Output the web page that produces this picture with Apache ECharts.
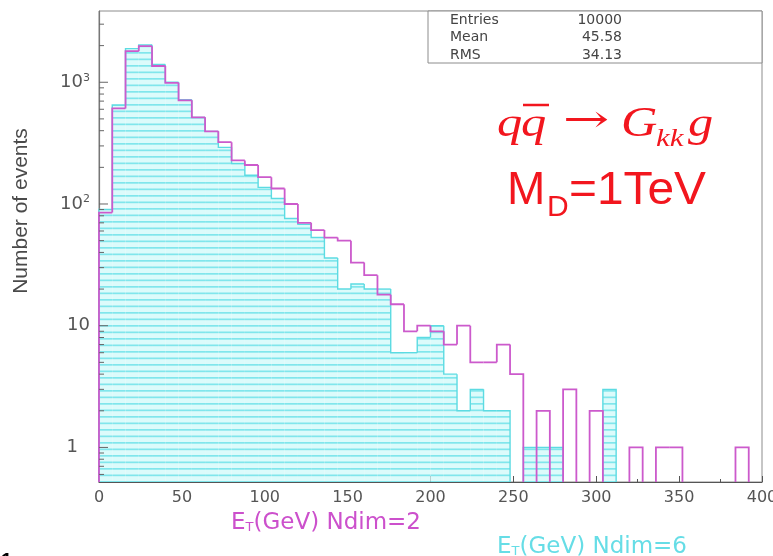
<!DOCTYPE html>
<html>
<head>
<meta charset="utf-8">
<script src="https://cdn.jsdelivr.net/npm/echarts@6/dist/echarts.min.js"></script>
<style>
html, body { margin: 0; padding: 0; background: #ffffff; }
#main { width: 773px; height: 556px; }
</style>
</head>
<body>
<div id="main"></div>
<script>
// Histogram binning: lower edges of the 8 GeV bins
const binLowEdges = [0, 8, 16, 24, 32, 40, 48, 56, 64, 72, 80, 88, 96, 104, 112, 120, 128, 136, 144, 152,
  160, 168, 176, 184, 192, 200, 208, 216, 224, 232, 240, 248, 256, 264, 272, 280, 288, 296, 304, 312,
  320, 328, 336, 344, 352, 360, 368, 376, 384, 392];
const binWidth = 8;

// Events per bin, Ndim = 2 (outline) and Ndim = 6 (hatched)
const ndim2Counts = [85, 610, 1800, 1980, 1360, 990, 710, 515, 395, 322, 228, 209, 166, 134, 100, 70, 61, 53, 50, 33,
  26, 18, 15, 9, 10, 9, 7, 10, 5, 5, 7, 4, 0, 2, 0, 3, 0, 2, 0, 0,
  1, 0, 1, 1, 0, 0, 0, 0, 1, 0];
const ndim6Counts = [90, 650, 1890, 2030, 1400, 1000, 720, 515, 395, 292, 215, 172, 137, 111, 76, 68, 53, 36, 20, 22,
  20, 20, 6, 6, 8, 10, 4, 2, 3, 2, 2, 0, 1, 1, 1, 0, 0, 0, 3, 0,
  0, 0, 0, 0, 0, 0, 0, 0, 0, 0];

// Axis ticks and labels
const yMajorTicks = [1, 10, 100, 1000];
const yMinorTicks = [0.6, 0.7, 0.8, 0.9, 2, 3, 4, 5, 6, 7, 8, 9, 20, 30, 40, 50, 60, 70, 80, 90,
  200, 300, 400, 500, 600, 700, 800, 900, 2000, 3000];
const yLabelBase = ['1', '10', '10', '10'];
const yLabelExp = ['', '', '2', '3'];

// Statistics box
const statNames = ['Entries', 'Mean', 'RMS'];
const statValues = ['10000', '45.58', '34.13'];

// Horizontal hatch used for the Ndim = 6 histogram
const hatch = document.createElement('canvas');
hatch.width = 8; hatch.height = 13;
(function () {
  const g = hatch.getContext('2d');
  g.fillStyle = '#dcfbfb';
  g.fillRect(0, 0, 8, 13);
  g.fillStyle = '#80e6ec';
  g.fillRect(0, 0, 8, 1.7);
  g.fillRect(0, 6.5, 8, 1.7);
})();

function binData(counts) {
  return binLowEdges.map((lo, i) => [
    lo, lo + binWidth, counts[i],
    i > 0 ? counts[i - 1] : 0,
    i < counts.length - 1 ? counts[i + 1] : 0
  ]);
}

function fillItem(params, api) {
  const v = api.value(2);
  if (!(v > 0)) return { type: 'group', children: [] };
  const cs = params.coordSys;
  const bottom = cs.y + cs.height;
  const p0 = api.coord([api.value(0), v]);
  const p1 = api.coord([api.value(1), v]);
  return {
    type: 'rect',
    shape: { x: p0[0], y: p0[1], width: p1[0] - p0[0], height: bottom - p0[1] },
    style: { fill: { image: hatch, repeat: 'repeat' }, stroke: null }
  };
}

function outlineItem(color, width, blend) {
  return function (params, api) {
    const lo = api.value(0), hi = api.value(1), v = api.value(2);
    const prev = api.value(3), next = api.value(4);
    if (!(v > 0)) return { type: 'group', children: [] };
    const cs = params.coordSys;
    const bottom = cs.y + cs.height;
    const a = api.coord([lo, v]);
    const b = api.coord([hi, v]);
    const yPrev = prev > 0 ? api.coord([lo, prev])[1] : bottom;
    const pts = [[a[0], yPrev], [a[0], a[1]], [b[0], b[1]]];
    if (!(next > 0)) pts.push([b[0], bottom]);
    return {
      type: 'polyline',
      shape: { points: pts },
      style: { stroke: color, lineWidth: width, fill: null, blend: blend }
    };
  };
}

function yTickItem(params, api) {
  const p = api.coord([0, api.value(1)]);
  return {
    type: 'line',
    shape: { x1: p[0], y1: p[1], x2: p[0] + api.value(2), y2: p[1] },
    style: { stroke: '#666', lineWidth: 1 }
  };
}

const yTickData = yMajorTicks.map(v => [0, v, 9]).concat(yMinorTicks.map(v => [0, v, 5]));

const redText = '#f2161e';
const grayText = '#4a4a4a';

// Red process annotation, slightly widened serif glyphs
function formulaText(t, x, y, font, sx) {
  return { type: 'text', z: 11, x: x, y: y, scaleX: sx,
    style: { text: t, x: 0, y: 0, font: font, fill: redText, verticalAlign: 'middle' } };
}

const option = {
  animation: false,
  backgroundColor: '#ffffff',
  grid: {
    left: 99, right: 11, top: 11, bottom: 74,
    outerBoundsMode: 'none', containLabel: false,
    show: true, borderColor: '#8c8c8c', borderWidth: 1, backgroundColor: 'transparent'
  },
  xAxis: {
    type: 'value', min: 0, max: 400, interval: 50,
    axisLine: { lineStyle: { color: '#555', width: 1.2 } },
    axisTick: { inside: true, length: 6, lineStyle: { color: '#555' } },
    minorTick: { show: true, splitNumber: 2, length: 3, lineStyle: { color: '#555' } },
    splitLine: { show: false },
    axisLabel: { fontFamily: 'DejaVu Sans', fontSize: 16, color: '#555', margin: 8, hideOverlap: false }
  },
  yAxis: {
    type: 'log', logBase: 10, min: 0.52, max: 3850,
    axisLine: { show: true, lineStyle: { color: '#777', width: 1.2 } },
    axisTick: { show: false },
    splitLine: { show: false },
    minorTick: { show: false },
    axisLabel: {
      customValues: yMajorTicks,
      margin: 9,
      fontFamily: 'DejaVu Sans', fontSize: 18, color: '#555',
      formatter: function (v) {
        const i = yMajorTicks.findIndex(t => Math.abs(t - v) < 1e-6 * t);
        if (i < 0) return '';
        if (yLabelExp[i]) return '{b|' + yLabelBase[i] + '}{s|' + yLabelExp[i] + '}';
        if (yLabelBase[i] === '1') return '{one|1}';
        return '{b|' + yLabelBase[i] + '}';
      },
      rich: {
        b: { fontFamily: 'DejaVu Sans', fontSize: 18, color: '#555' },
        one: { fontFamily: 'DejaVu Sans', fontSize: 18, color: '#555', padding: [0, 12, 0, 0] },
        s: { fontFamily: 'DejaVu Sans', fontSize: 11, color: '#555', padding: [0, 0, 9, 0] }
      }
    }
  },
  series: [
    {
      name: 'Ndim=6', type: 'custom', renderItem: fillItem,
      encode: { x: [0, 1], y: 2 }, data: binData(ndim6Counts), z: 1, silent: true
    },
    {
      name: 'Ndim=6 outline', type: 'custom', renderItem: outlineItem('#5cdbe2', 1.4, 'source-over'),
      encode: { x: [0, 1], y: 2 }, data: binData(ndim6Counts), z: 2, silent: true
    },
    {
      name: 'Ndim=2', type: 'custom', renderItem: outlineItem('#cc5acc', 1.8, 'multiply'),
      encode: { x: [0, 1], y: 2 }, data: binData(ndim2Counts), z: 3, silent: true
    },
    {
      name: 'y ticks', type: 'custom', renderItem: yTickItem,
      encode: { x: 0, y: 1 }, data: yTickData, z: 4, silent: true
    }
  ],
  graphic: {
    elements: [
      // statistics box
      { type: 'rect', z: 10, shape: { x: 428, y: 11, width: 334, height: 52 },
        style: { fill: '#ffffff', stroke: '#8c8c8c', lineWidth: 1 } },
      ...statNames.map((t, i) => ({
        type: 'text', z: 11, style: { text: t, x: 450, y: 20 + i * 17.5, font: '14px "DejaVu Sans"',
          fill: '#444', verticalAlign: 'middle', textAlign: 'left' } })),
      ...statValues.map((t, i) => ({
        type: 'text', z: 11, style: { text: t, x: 622, y: 20 + i * 17.5, font: '14px "DejaVu Sans"',
          fill: '#444', verticalAlign: 'middle', textAlign: 'right' } })),
      // process label: q qbar -> G_kk g
      formulaText('q', 497, 125, 'italic 42px "Liberation Serif"', 1.2),
      formulaText('q', 521, 125, 'italic 42px "Liberation Serif"', 1.2),
      { type: 'line', z: 11, shape: { x1: 523, y1: 105, x2: 549, y2: 105 }, style: { stroke: redText, lineWidth: 2.5 } },
      formulaText('\u2192', 563, 122, '38px "DejaVu Serif"', 1.45),
      formulaText('G', 621, 125, 'italic 42px "Liberation Serif"', 1.2),
      formulaText('kk', 656, 139, 'italic 26px "Liberation Serif"', 1.2),
      formulaText('g', 688, 125, 'italic 42px "Liberation Serif"', 1.2),
      { type: 'text', z: 11, style: { text: 'M', x: 507, y: 191, font: '46px "Liberation Sans"', fill: redText, verticalAlign: 'middle' } },
      { type: 'text', z: 11, style: { text: 'D', x: 547, y: 208, font: '30px "Liberation Sans"', fill: redText, verticalAlign: 'middle' } },
      { type: 'text', z: 11, x: 569, y: 191, scaleX: 1.04,
        style: { text: '=1TeV', x: 0, y: 0, font: '46px "Liberation Sans"', fill: redText, verticalAlign: 'middle' } },
      // axis titles
      { type: 'text', z: 11, x: 21, y: 211, rotation: Math.PI / 2,
        style: { text: 'Number of events', x: 0, y: 0, font: '21px "Liberation Sans"', fill: grayText,
          textAlign: 'center', verticalAlign: 'middle' } },
      { type: 'text', z: 11, style: {
          text: '{e|E}{t|T}{e|(GeV) Ndim=2}', x: 326, y: 523, textAlign: 'center', verticalAlign: 'middle',
          rich: {
            e: { fontFamily: 'DejaVu Sans', fontSize: 23, fill: '#cc50cc' },
            t: { fontFamily: 'DejaVu Sans', fontSize: 13, fill: '#cc50cc', padding: [10, 0, 0, 0] }
          } } },
      { type: 'text', z: 11, style: {
          text: '{e|E}{t|T}{e|(GeV) Ndim=6}', x: 592, y: 547, textAlign: 'center', verticalAlign: 'middle',
          rich: {
            e: { fontFamily: 'DejaVu Sans', fontSize: 23, fill: '#66dde6' },
            t: { fontFamily: 'DejaVu Sans', fontSize: 13, fill: '#66dde6', padding: [10, 0, 0, 0] }
          } } },
      { type: 'text', z: 11, style: { text: '1', x: 1, y: 551, font: 'bold 20px "Liberation Sans"', fill: '#000', verticalAlign: 'top' } }
    ]
  }
};

const chart = echarts.init(document.getElementById('main'), null, { renderer: 'canvas' });
chart.setOption(option);
</script>
</body>
</html>
